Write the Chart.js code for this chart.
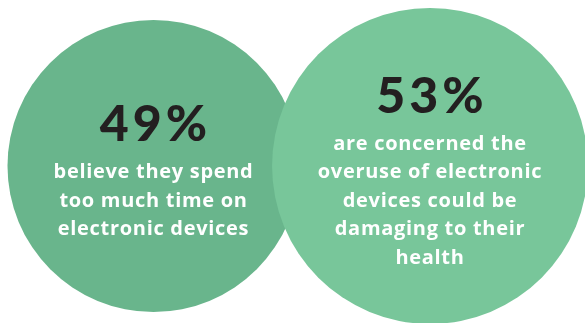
<!DOCTYPE html>
<html>
<head>
<meta charset="utf-8">
<script src="https://cdn.jsdelivr.net/npm/chart.js@4"></script>
<style>
  html, body { margin: 0; padding: 0; background: #ffffff; }
  #wrap { width: 585px; height: 323px; }
</style>
</head>
<body>
<div id="wrap"><canvas id="bubbles" width="585" height="323"></canvas></div>
<script>
// share of respondents (%)
const categories = ["too much time", "health concern"];
const percentages = [49, 53];
const captions = [
    ["believe they spend", "too much time on", "electronic devices"],
    ["are concerned the", "overuse of electronic", "devices could be", "damaging to their", "health"]
];
const bubbleColors = ["#69b58c", "#78c69a"];

// text drawn inside each bubble
const bubbleText = {
    id: "bubbleText",
    afterDatasetsDraw(chart) {
        const ctx = chart.ctx;
        const meta = chart.getDatasetMeta(0);
        meta.data.forEach((pt, i) => {
            const lines = captions[i];
            const mid = pt.y + 41;
            const lineH = 28.5;
            const first = mid - (lines.length - 1) / 2 * lineH;
            ctx.save();
            ctx.textAlign = "center";
            ctx.textBaseline = "alphabetic";
            ctx.fillStyle = "#231f20";
            ctx.font = "900 50px Lato";
            ctx.letterSpacing = "4px";
            ctx.fillText(percentages[i] + "%", pt.x + 2, first - 37);
            ctx.fillStyle = "#ffffff";
            ctx.font = "bold 20px 'Open Sans'";
            ctx.letterSpacing = "0.7px";
            lines.forEach((l, j) => ctx.fillText(l, pt.x, first + j * lineH));
            ctx.restore();
        });
    }
};

new Chart(document.getElementById("bubbles"), {
    type: "bubble",
    data: {
        labels: categories,
        datasets: [{
            data: percentages.map((v, i) => ({ x: i, y: 0, r: v * 2.98 })),
            backgroundColor: bubbleColors,
            hoverBackgroundColor: bubbleColors,
            borderWidth: 0,
            hoverRadius: 0,
            clip: false
        }]
    },
    options: {
        responsive: false,
        animation: false,
        events: [],
        layout: { padding: 0, autoPadding: false },
        scales: {
            x: { type: "linear", min: -0.5552, max: 1.5606, display: false },
            y: { type: "linear", min: -0.9458, max: 1, display: false }
        },
        plugins: {
            legend: { display: false },
            tooltip: { enabled: false }
        }
    },
    plugins: [bubbleText]
});
</script>
</body>
</html>
